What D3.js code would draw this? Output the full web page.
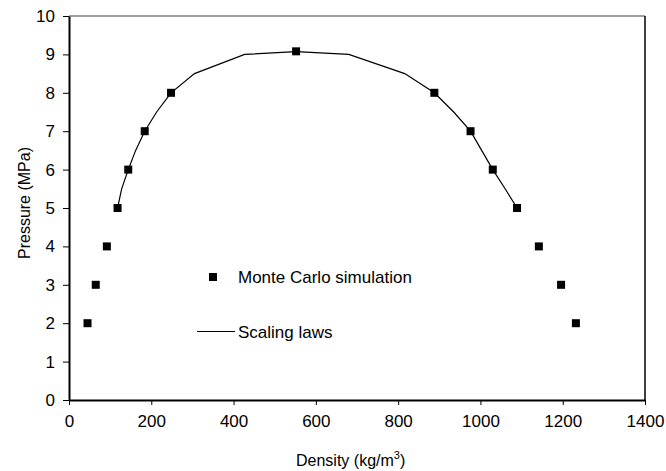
<!DOCTYPE html>
<html>
<head>
<meta charset="utf-8">
<script src="https://cdn.jsdelivr.net/npm/d3@7"></script>
<style>
  body { margin: 0; background: #fff; }
  svg text { font-family: "Liberation Sans", Arial, sans-serif; fill: #000; }
</style>
</head>
<body>
<div id="chart"></div>
<script>
// Monte Carlo simulation points
var mcDensity  = [45, 65, 92, 118, 144, 184, 248, 552, 888, 976, 1030, 1089, 1142, 1196, 1232];
var mcPressure = [2, 3, 4, 5, 6, 7, 8, 9.08, 8, 7, 6, 5, 4, 3, 2];

// Scaling laws curve
var slDensity  = [118, 128, 144, 162, 184, 213, 248, 305, 427, 552, 680, 816, 888, 935, 976, 1003, 1030, 1060, 1089];
var slPressure = [5, 5.5, 6, 6.5, 7, 7.5, 8, 8.5, 9, 9.07, 9, 8.5, 8, 7.5, 7, 6.5, 6, 5.5, 5];

var xTicks = [0, 200, 400, 600, 800, 1000, 1200, 1400];
var yTicks = [0, 1, 2, 3, 4, 5, 6, 7, 8, 9, 10];

var svgWidth = 666, svgHeight = 471;
var margin = { top: 16, right: 21, bottom: 71, left: 69 };
var width = svgWidth - margin.left - margin.right;
var height = svgHeight - margin.top - margin.bottom;

var svg = d3.select("#chart").append("svg")
  .attr("width", svgWidth)
  .attr("height", svgHeight);

var chartGroup = svg.append("g")
  .attr("transform", `translate(${margin.left}, ${margin.top})`);

var xScale = d3.scaleLinear().domain([0, 1400]).range([0, width]);
var yScale = d3.scaleLinear().domain([0, 10]).range([height, 0]);

// frame: top gray, right black
chartGroup.append("line")
  .attr("x1", 0).attr("x2", width).attr("y1", 0).attr("y2", 0)
  .attr("stroke", "#808080").attr("stroke-width", 1.5);
chartGroup.append("line")
  .attr("x1", width).attr("x2", width).attr("y1", 0).attr("y2", height)
  .attr("stroke", "#000").attr("stroke-width", 1.5);

// axes
var xAxis = d3.axisBottom(xScale).tickValues(xTicks).tickFormat(d3.format("d"))
  .tickSize(5).tickPadding(10).tickSizeOuter(0);
var yAxis = d3.axisLeft(yScale).tickValues(yTicks).tickFormat(d3.format("d"))
  .tickSize(6).tickPadding(8).tickSizeOuter(0);

var gx = chartGroup.append("g")
  .attr("transform", `translate(0, ${height})`)
  .call(xAxis);
var gy = chartGroup.append("g").call(yAxis);

[gx, gy].forEach(function(g) {
  g.select(".domain").attr("stroke", "#000").attr("stroke-width", 2);
  g.selectAll(".tick line").attr("stroke", "#000").attr("stroke-width", 1);
  g.selectAll(".tick text").attr("font-size", "17px")
    .style("font-family", "'Liberation Sans', Arial, sans-serif");
});

// scaling laws line
var line = d3.line()
  .x(function(d, i) { return xScale(slDensity[i]); })
  .y(function(d, i) { return yScale(slPressure[i]); });

chartGroup.append("path")
  .datum(slDensity)
  .attr("d", line)
  .attr("fill", "none")
  .attr("stroke", "#000")
  .attr("stroke-width", 1.2);

// Monte Carlo markers
var s = 8;
chartGroup.selectAll("rect.mc")
  .data(mcDensity)
  .enter()
  .append("rect")
  .attr("class", "mc")
  .attr("x", function(d) { return xScale(d) - s / 2; })
  .attr("y", function(d, i) { return yScale(mcPressure[i]) - s / 2; })
  .attr("width", s)
  .attr("height", s)
  .attr("fill", "#000");

// legend
svg.append("rect")
  .attr("x", 209).attr("y", 273).attr("width", 8).attr("height", 8)
  .attr("fill", "#000");
svg.append("text")
  .attr("x", 238).attr("y", 283)
  .attr("font-size", "17px")
  .text("Monte Carlo simulation");
svg.append("line")
  .attr("x1", 197).attr("x2", 235).attr("y1", 331.5).attr("y2", 331.5)
  .attr("stroke", "#000").attr("stroke-width", 1);
svg.append("text")
  .attr("x", 238).attr("y", 338)
  .attr("font-size", "17px")
  .text("Scaling laws");

// y axis label
svg.append("text")
  .attr("transform", `translate(30, 203) rotate(-90)`)
  .attr("text-anchor", "middle")
  .attr("font-size", "16px")
  .text("Pressure (MPa)");

// x axis label
var xl = svg.append("text")
  .attr("x", 296)
  .attr("y", 466)
  .attr("font-size", "16px");
xl.append("tspan").text("Density (kg/m");
xl.append("tspan").attr("dy", -7).attr("font-size", "11px").text("3");
xl.append("tspan").attr("dy", 7).text(")");
</script>
</body>
</html>
